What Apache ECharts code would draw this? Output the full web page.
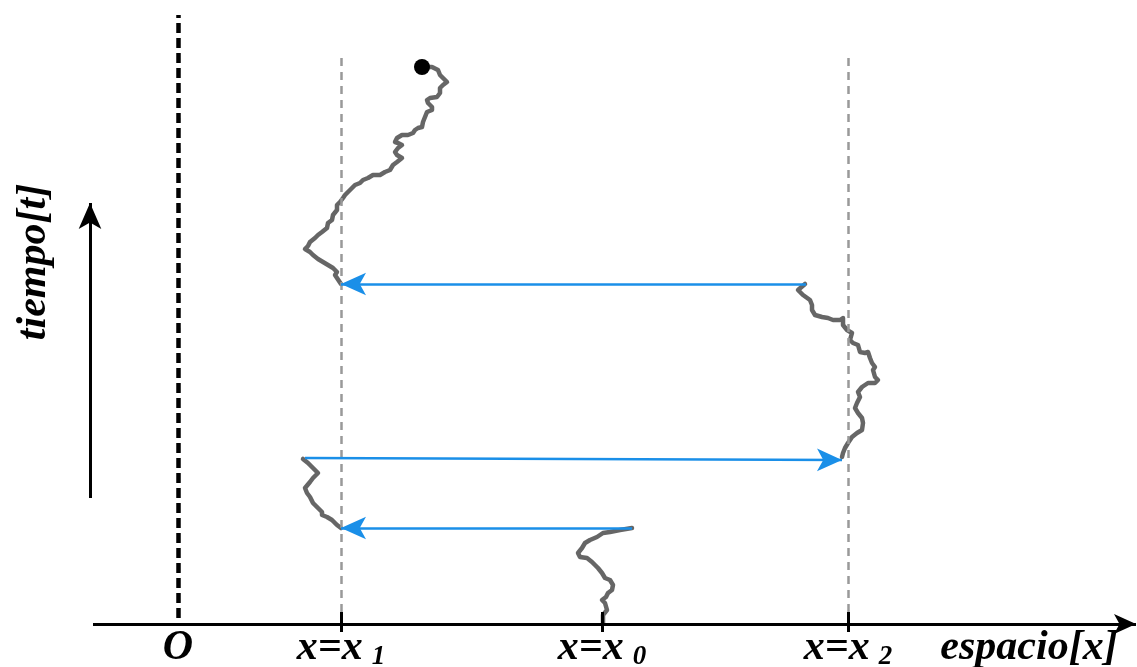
<!DOCTYPE html>
<html><head><meta charset="utf-8">
<script src="https://cdn.jsdelivr.net/npm/echarts@6/dist/echarts.min.js"></script>
<style>html,body{margin:0;padding:0;background:#fff}#c{width:1137px;height:667px}</style>
</head><body><div id="c"></div>
<script>
// ---- data (x: space, t: time; origin O at x=0, t=0) ----
const tickValues = [0, 163, 424, 670];      // O, x1, x0, x2
const tickNames  = ['O', 'x=x', 'x=x', 'x=x'];
const tickSubs   = ['', '1', '0', '2'];
const barriers   = [163, 670];              // x = x1, x = x2

// random-walk path, split at the jumps (bottom -> top)
const segA = [[425,0],[425,9],[429,14],[427,21],[424,24],[428,27],[430,31],[434,34],[435,39],[432,44],[427,46],[424,51],[420,56],[417,59],[414,62],[409,66],[402,67],[400,71],[404,76],[407,81],[412,84],[419,87],[425,91],[432,92],[442,94],[454,96]];
const segB = [[163,96],[159,99],[154,104],[149,107],[144,109],[144,112],[140,116],[135,121],[132,127],[129,131],[127,136],[132,142],[135,146],[140,151],[135,156],[130,161],[125,165]];
const segC = [[664,167],[665,171],[667,176],[670,181],[674,187],[679,191],[684,194],[685,201],[684,206],[680,211],[677,216],[679,221],[682,227],[680,232],[684,237],[690,241],[697,241],[700,244],[697,247],[695,254],[697,257],[694,261],[692,266],[690,272],[687,271],[682,272],[680,279],[675,281],[672,284],[674,291],[669,294],[665,299],[665,306],[662,304],[655,304],[650,306],[644,307],[637,309],[634,314],[634,319],[632,324],[625,329],[620,334],[627,340]];
const segD = [[163,340],[162,341],[159,346],[157,349],[159,352],[155,356],[150,359],[145,362],[140,365],[135,369],[132,372],[127,375],[130,378],[132,382],[137,386],[140,389],[144,392],[149,396],[150,401],[154,404],[155,409],[159,414],[159,419],[162,422],[165,426],[167,429],[170,432],[174,436],[177,439],[182,441],[185,444],[190,446],[195,449],[202,449],[207,452],[212,454],[215,459],[219,462],[224,466],[219,469],[217,472],[220,476],[224,479],[220,481],[217,482],[219,486],[224,489],[230,489],[235,491],[237,494],[240,496],[244,497],[245,502],[247,507],[249,512],[254,514],[254,517],[250,521],[249,524],[252,526],[259,527],[262,531],[262,536],[265,539],[269,542],[267,544],[262,549],[260,554],[254,557],[244,557]];
const endPoint = [[244,557]];

// jumps (from -> to)
const jumps = [
  [[454,96],[163,96]],
  [[127,166],[664,164]],
  [[628,340],[163,340]]
];

// axis extents / annotations
const xAxisLine  = [[-85,0],[958,0]];
const originLine = [[0,6],[0,609]];
const barrierSpan = [12, 572];
const timeArrow  = [[-88,126],[-88,421]];
const axisNames  = [
  {name:'tiempo[t]', value:[-144,362], rotate:90},
  {name:'espacio[x]', value:[851,-24], rotate:0}
];

// ---- chart ----
const FONT = 'Liberation Serif';
const blue = '#1a8fe8';
const pathStyle = {color:'#666666', width:4.5, join:'round', cap:'round'};

const guideLines = [];
guideLines.push([{coord:originLine[0], lineStyle:{color:'#000', width:4.5, type:[10,5]}}, {coord:originLine[1]}]);
barriers.forEach(b => guideLines.push([{coord:[b, barrierSpan[0]], lineStyle:{color:'#999999', width:2.5, type:[8,6]}}, {coord:[b, barrierSpan[1]]}]));
guideLines.push([{coord:xAxisLine[0], lineStyle:{color:'#000', width:3, type:'solid'}}, {coord:xAxisLine[1], symbol:'arrow', symbolSize:[15,22]}]);
tickValues.slice(1).forEach(v => guideLines.push([{coord:[v,0], lineStyle:{color:'#000', width:3, type:'solid'}}, {coord:[v,12]}]));
guideLines.push([{coord:timeArrow[0], lineStyle:{color:'#000', width:3, type:'solid'}}, {coord:timeArrow[1], symbol:'arrow', symbolSize:[17,26]}]);

const jumpLines = jumps.map(j => [{coord:j[0], symbol:'none'}, {coord:j[1], symbol:'arrow', symbolSize:[17,25]}]);

const chart = echarts.init(document.getElementById('c'), null, {renderer:'canvas'});
chart.setOption({
  animation:false,
  backgroundColor:'#fff',
  grid:{left:0, right:0, top:0, bottom:43, containLabel:false, outerBoundsMode:'none'},
  xAxis:{
    type:'value', min:-178, max:959, position:'bottom',
    axisLine:{show:false},
    axisTick:{show:true, customValues: tickValues.slice(1), length:8, inside:false, lineStyle:{color:'#000', width:3}},
    splitLine:{show:false},
    axisLabel:{
      customValues: tickValues, margin:3, showMinLabel:true, showMaxLabel:true,
      formatter: v => { const i = tickValues.indexOf(v); if (i < 0) return ''; return '{m|' + tickNames[i] + '}' + (tickSubs[i] ? '{s|' + tickSubs[i] + '}' : ''); },
      rich:{
        m:{fontFamily:FONT, fontStyle:'italic', fontWeight:'bold', fontSize:42, lineHeight:44, verticalAlign:'top', color:'#000'},
        s:{fontFamily:FONT, fontStyle:'italic', fontWeight:'bold', fontSize:27, lineHeight:26, verticalAlign:'bottom', padding:[0,0,0,9], color:'#000'}
      }
    }
  },
  yAxis:{type:'value', min:0, max:624, show:false},
  series:[
    {type:'line', data:[], silent:true, clip:false, markLine:{silent:true, symbol:'none', label:{show:false}, emphasis:{disabled:true}, data:guideLines}},
    {type:'line', data:[], silent:true, clip:false, markLine:{silent:true, symbol:'none', label:{show:false}, emphasis:{disabled:true}, lineStyle:{color:blue, width:2.5, type:'solid'}, itemStyle:{color:blue}, data:jumpLines}},
    {type:'line', data:segA, symbol:'none', lineStyle:pathStyle, silent:true, clip:false},
    {type:'line', data:segB, symbol:'none', lineStyle:pathStyle, silent:true},
    {type:'line', data:segC, symbol:'none', lineStyle:pathStyle, silent:true},
    {type:'line', data:segD, symbol:'none', lineStyle:pathStyle, silent:true},
    {type:'scatter', data:endPoint, symbolSize:16, itemStyle:{color:'#000', opacity:1}, silent:true, z:5},
    {type:'scatter', data:axisNames.map(a => ({value:a.value, label:{rotate:a.rotate}})), symbolSize:0, silent:true, clip:false,
      itemStyle:{opacity:1},
      label:{show:true, position:'inside', formatter: p => axisNames[p.dataIndex].name, fontFamily:FONT, fontStyle:'italic', fontWeight:'bold', fontSize:42, color:'#000', opacity:1}}
  ]
});
</script></body></html>
